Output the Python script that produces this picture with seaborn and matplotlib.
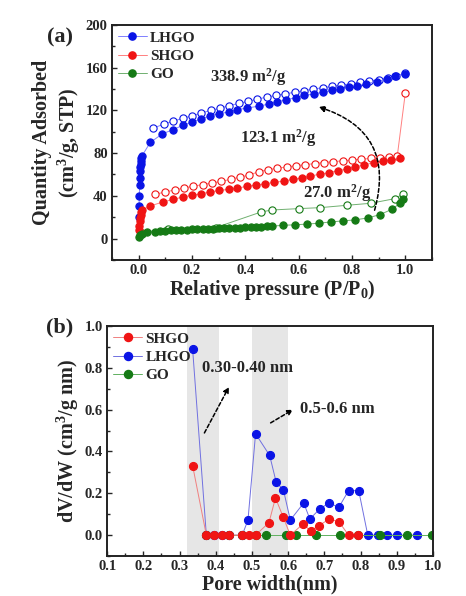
import numpy as np
import pandas as pd
import matplotlib
matplotlib.use("Agg")
import matplotlib.pyplot as plt
import seaborn as sns
from matplotlib.ticker import MultipleLocator
from matplotlib.lines import Line2D

# ---------------- data: panel (a) isotherms ----------------
lhgo_ads_x = [0.001, 0.002, 0.003, 0.004, 0.005, 0.006, 0.007, 0.008, 0.009, 0.010, 0.012,
              0.044, 0.089, 0.129, 0.166, 0.200, 0.234, 0.269, 0.300, 0.340, 0.370, 0.406,
              0.450, 0.490, 0.519, 0.554, 0.590, 0.620, 0.656, 0.690, 0.725, 0.756, 0.790,
              0.820, 0.854, 0.894, 0.930, 0.960, 0.998]
lhgo_ads_y = [20, 30, 40, 50, 57, 63, 67, 70, 73, 75, 77,
              90, 98, 102, 106, 109, 112, 115, 117, 118.5, 120.7, 122.2,
              124, 126, 128, 130, 132, 134, 135.3, 137, 138.7, 140, 141.8,
              143, 145, 147, 149.3, 151.8, 154]
lhgo_des_x = [0.056, 0.094, 0.13, 0.165, 0.2, 0.235, 0.27, 0.305, 0.34, 0.375, 0.41,
              0.445, 0.48, 0.515, 0.55, 0.585, 0.62, 0.655, 0.69, 0.725, 0.76, 0.795,
              0.83, 0.865, 0.9, 0.935, 0.965, 1.0]
lhgo_des_y = [103.6, 107, 110, 112.5, 115, 117.5, 120, 122, 124.5, 126.5, 128.5,
              130.5, 132.5, 134, 135.5, 137, 138.5, 140, 141.3, 142.5, 143.7, 145,
              146.2, 147.5, 148.8, 150, 152, 155]

shgo_ads_x = [0.001, 0.002, 0.004, 0.006, 0.008, 0.010, 0.012,
              0.044, 0.091, 0.131, 0.166, 0.200, 0.234, 0.269, 0.300, 0.340, 0.371, 0.406,
              0.440, 0.475, 0.509, 0.544, 0.579, 0.613, 0.644, 0.680, 0.713, 0.746, 0.780,
              0.810, 0.846, 0.881, 0.916, 0.948, 0.980]
shgo_ads_y = [8, 12, 16, 19, 22, 24.5, 26.5,
              30.5, 34.2, 36.7, 38.9, 40.4, 42, 43.5, 45, 46, 47.3, 48.8,
              50, 51.3, 52.6, 53.8, 55.4, 56.6, 58.5, 60.3, 61.6, 63.5, 65,
              66.9, 69, 71, 72.5, 74, 75.3]
shgo_des_x = [0.06, 0.1, 0.135, 0.17, 0.205, 0.24, 0.275, 0.31, 0.345, 0.38, 0.415,
              0.45, 0.485, 0.52, 0.555, 0.59, 0.625, 0.66, 0.695, 0.73, 0.765, 0.8,
              0.835, 0.87, 0.905, 0.94, 0.97, 1.0]
shgo_des_y = [41.4, 43.5, 45.5, 47.3, 49, 50.5, 52, 53.5, 55.5, 57.5, 59.5,
              62.5, 64.5, 65.8, 67, 68.2, 69.2, 70.2, 71.2, 72, 72.8, 73.6,
              74.3, 75, 75.8, 76.5, 77.5, 136.2]

go_ads_x = [0.001, 0.005, 0.012, 0.03, 0.06, 0.08, 0.10, 0.12, 0.14, 0.16, 0.18, 0.20,
            0.22, 0.24, 0.26, 0.28, 0.30, 0.32, 0.34, 0.36, 0.38, 0.40, 0.42, 0.44,
            0.46, 0.48, 0.50, 0.54, 0.585, 0.63, 0.675, 0.72, 0.765, 0.81, 0.86,
            0.905, 0.95, 0.98, 0.99]
go_ads_y = [1, 3, 4.5, 6, 6.5, 7, 7.3, 7.6, 7.9, 8.1, 8.3, 8.5,
            8.7, 8.9, 9.1, 9.3, 9.5, 9.7, 9.9, 10.1, 10.3, 10.5, 10.7, 10.9,
            11.1, 11.3, 11.5, 12.4, 12.8, 13.5, 14.3, 15.5, 16.5, 17.4, 19.3,
            22.4, 27.4, 33, 36.7]
go_des_x = [0.012, 0.11, 0.29, 0.46, 0.50, 0.60, 0.68, 0.78, 0.87, 0.96, 0.99]
go_des_y = [5.6, 9.3, 10.3, 24.9, 26.7, 28, 28.9, 31.1, 33, 37.3, 41.4]

# ---------------- data: panel (b) pore size distribution ----------------
shgo_pw_x = [0.336, 0.374, 0.395, 0.416, 0.437, 0.473, 0.492, 0.510, 0.547, 0.565,
             0.586, 0.606, 0.641, 0.662, 0.685, 0.713, 0.740, 0.767, 0.793]
shgo_pw_y = [0.333, 0, 0, 0, 0, 0, 0, 0, 0.060, 0.178,
             0.088, 0, 0.053, 0.021, 0.045, 0.077, 0.065, 0, 0]
lhgo_pw_x = [0.336, 0.374, 0.395, 0.416, 0.437, 0.473, 0.489, 0.510, 0.549, 0.567,
             0.587, 0.606, 0.643, 0.660, 0.687, 0.713, 0.740, 0.767, 0.795, 0.820,
             0.848, 0.873, 0.902, 0.956]
lhgo_pw_y = [0.891, 0, 0, 0, 0, 0, 0.072, 0.485, 0.381, 0.253,
             0.216, 0.072, 0.154, 0.077, 0.125, 0.154, 0.133, 0.213, 0.213, 0,
             0, 0, 0, 0]
go_pw_x = [0.374, 0.437, 0.473, 0.510, 0.540, 0.593, 0.623, 0.676, 0.744, 0.793,
           0.853, 0.928, 0.998]
go_pw_y = [0, 0, 0, 0, 0, 0, 0, 0, 0, 0, 0, 0, 0]

shade_spans = [(0.32, 0.41), (0.50, 0.60)]

BLUE = "#0a14e6"
RED = "#f01414"
GREEN = "#157a15"

sns.set_style("ticks")
plt.rcParams["font.family"] = ["Liberation Serif", "DejaVu Serif"]
plt.rcParams["font.weight"] = "bold"
plt.rcParams["mathtext.fontset"] = "custom"
plt.rcParams["mathtext.rm"] = "Liberation Serif:bold"
plt.rcParams["mathtext.it"] = "Liberation Serif:bold"
plt.rcParams["mathtext.bf"] = "Liberation Serif:bold"

fig = plt.figure(figsize=(4.66, 5.96), dpi=100)
axa = fig.add_axes([0.240, 0.564, 0.687, 0.394])
axb = fig.add_axes([0.230, 0.067, 0.699, 0.386])

LBL = 14.5
TCK = 10.5
LEG = 11
ANN = 12


def series(ax, x, y, color, filled, lw=0.7, ms=5.2, lc=None):
    df = pd.DataFrame({"x": x, "y": y})
    sns.lineplot(data=df, x="x", y="y", ax=ax, sort=False, estimator=None,
                 color=lc if lc else color, lw=lw, marker="o", markersize=ms,
                 markerfacecolor=color if filled else "white",
                 markeredgecolor=color, markeredgewidth=0.8, legend=False)


# ---- panel (a)
series(axa, lhgo_des_x, lhgo_des_y, BLUE, False, lc="#8080ff")
series(axa, shgo_des_x, shgo_des_y, RED, False, lc="#ff8080")
series(axa, go_des_x, go_des_y, GREEN, False, lc="#70b070")
series(axa, lhgo_ads_x, lhgo_ads_y, BLUE, True, lc="#8080ff")
series(axa, shgo_ads_x, shgo_ads_y, RED, True, lc="#ff8080")
series(axa, go_ads_x, go_ads_y, GREEN, True, lc="#70b070")

axa.set_xlim(-0.1, 1.1)
axa.set_ylim(-20, 200)
axa.set_xticks([0.0, 0.2, 0.4, 0.6, 0.8, 1.0])
axa.set_xticklabels(["0.0", "0.2", "0.4", "0.6", "0.8", "1.0"])
axa.xaxis.set_minor_locator(MultipleLocator(0.1))
axa.set_yticks([0, 40, 80, 120, 160, 200])
axa.set_yticklabels(["0", "40", "80", "120", "160", "200"])
axa.yaxis.set_minor_locator(MultipleLocator(20))
axa.set_xlabel("Relative pressure (P/P$_0$)", fontsize=LBL, fontweight="bold", labelpad=1)
axa.set_ylabel("Quantity Adsorbed\n(cm$^3$/g, STP)", fontsize=LBL, fontweight="bold",
               linespacing=1.2, labelpad=3)

h_a = [Line2D([], [], color=lc, lw=0.7, marker="o", markersize=5.2,
              markerfacecolor=c, markeredgecolor=c)
       for c, lc in [(BLUE, "#8080ff"), (RED, "#ff8080"), (GREEN, "#70b070")]]
axa.legend(h_a, ["LHGO", "SHGO", "GO"], loc="upper left", frameon=False,
           handlelength=1.9, handletextpad=0.2, labelspacing=0.3,
           borderaxespad=0.1, borderpad=0.3, prop={"weight": "bold", "size": LEG})

axa.text(0.41, 151, "338.9 m$^2$/g", ha="center", va="center", fontsize=ANN, fontweight="bold")
axa.text(0.525, 94, "123.1 m$^2$/g", ha="center", va="center", fontsize=ANN, fontweight="bold")
axa.text(0.744, 43, "27.0 m$^2$/g", ha="center", va="center", fontsize=ANN, fontweight="bold")
axa.annotate("", xy=(0.665, 124), xytext=(0.882, 24),
             arrowprops=dict(arrowstyle="-|>", linestyle=(0, (2.5, 1.5)), color="black",
                             lw=1.1, connectionstyle="arc3,rad=0.5",
                             mutation_scale=9))

# ---- panel (b)
for a0, a1 in shade_spans:
    axb.axvspan(a0, a1, color="#e6e6e6", lw=0, zorder=0)
series(axb, lhgo_pw_x, lhgo_pw_y, BLUE, True, lc="#7070e0", ms=5.8)
series(axb, go_pw_x, go_pw_y, GREEN, True, lc="#60b060", ms=5.8)
series(axb, shgo_pw_x, shgo_pw_y, RED, True, lc="#f08080", ms=5.8)

axb.set_xlim(0.1, 1.0)
axb.set_ylim(-0.1, 1.0)
axb.set_xticks(np.round(np.arange(0.1, 1.01, 0.1), 1))
axb.set_xticklabels([f"{v:.1f}" for v in np.arange(0.1, 1.01, 0.1)])
axb.xaxis.set_minor_locator(MultipleLocator(0.05))
axb.set_yticks([0.0, 0.2, 0.4, 0.6, 0.8, 1.0])
axb.set_yticklabels(["0.0", "0.2", "0.4", "0.6", "0.8", "1.0"])
axb.yaxis.set_minor_locator(MultipleLocator(0.1))
axb.set_xlabel("Pore width(nm)", fontsize=LBL, fontweight="bold", labelpad=1)
axb.set_ylabel("dV/dW (cm$^3$/g nm)", fontsize=LBL, fontweight="bold", labelpad=3)

h_b = [Line2D([], [], color=lc, lw=0.7, marker="o", markersize=5.8,
              markerfacecolor=c, markeredgecolor=c)
       for c, lc in [(RED, "#f08080"), (BLUE, "#7070e0"), (GREEN, "#60b060")]]
axb.legend(h_b, ["SHGO", "LHGO", "GO"], loc="upper left", frameon=False,
           handlelength=1.9, handletextpad=0.2, labelspacing=0.3,
           borderaxespad=0.1, borderpad=0.3, prop={"weight": "bold", "size": LEG})

axb.text(0.363, 0.80, "0.30-0.40 nm", ha="left", va="center", fontsize=ANN, fontweight="bold")
axb.text(0.632, 0.605, "0.5-0.6 nm", ha="left", va="center", fontsize=ANN, fontweight="bold")
axb.annotate("", xy=(0.44, 0.72), xytext=(0.365, 0.477),
             arrowprops=dict(arrowstyle="-|>", linestyle=(0, (2.5, 1.5)), color="black",
                             lw=1.1, mutation_scale=8))
axb.annotate("", xy=(0.62, 0.607), xytext=(0.545, 0.53),
             arrowprops=dict(arrowstyle="-|>", linestyle=(0, (2.5, 1.5)), color="black",
                             lw=1.1, mutation_scale=8))

for ax in (axa, axb):
    for s in ax.spines.values():
        s.set_linewidth(1.4)
        s.set_color("#222222")
    ax.tick_params(which="both", direction="in", top=False, right=False,
                   labelsize=TCK, width=1.0, pad=3)
    ax.tick_params(which="major", length=3.5)
    ax.tick_params(which="minor", length=2)
    for lab in ax.get_xticklabels() + ax.get_yticklabels():
        lab.set_fontweight("bold")

fig.text(0.128, 0.937, "(a)", fontsize=16, fontweight="bold", ha="center", va="center")
fig.text(0.128, 0.451, "(b)", fontsize=16, fontweight="bold", ha="center", va="center")

fig.savefig("out.png", dpi=100, facecolor="white")
